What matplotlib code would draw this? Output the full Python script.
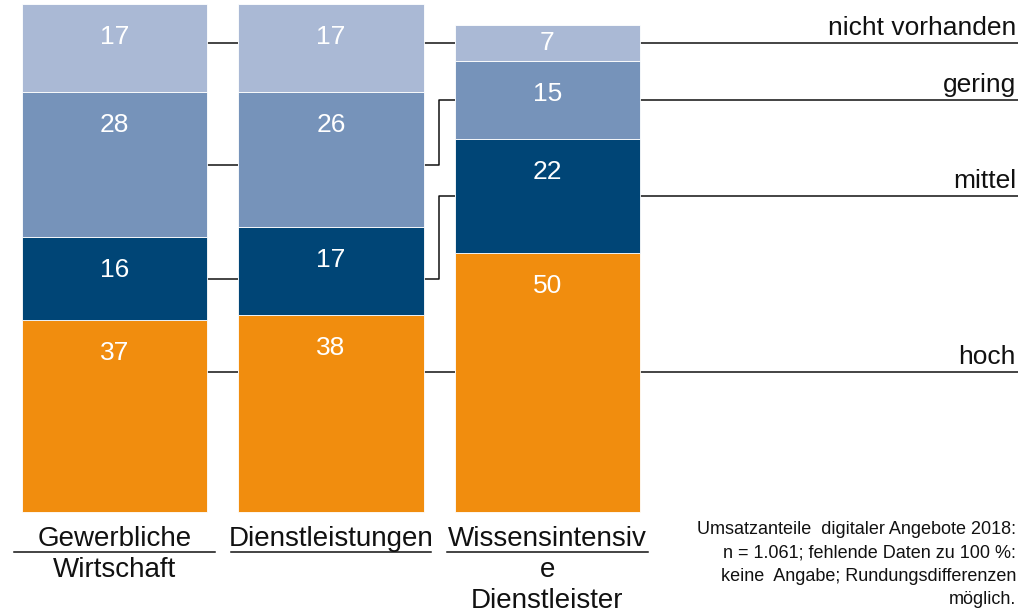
import matplotlib.pyplot as plt
import numpy as np

plt.rcParams['font.family'] = ['Liberation Sans', 'DejaVu Sans']

# data
categories = [["Gewerbliche", "Wirtschaft"], ["Dienstleistungen"], ["Wissensintensiv", "e", "Dienstleister"]]
levels = ["hoch", "mittel", "gering", "nicht vorhanden"]
hoch = [37, 38, 50]
mittel = [16, 17, 22]
gering = [28, 26, 15]
nicht = [17, 17, 7]
colors = ['#F18D0E', '#004576', '#7693BA', '#AAB9D5']
note = ["Umsatzanteile  digitaler Angebote 2018:",
        "n = 1.061; fehlende Daten zu 100 %:",
        "keine  Angabe; Rundungsdifferenzen",
        "möglich."]

fig = plt.figure(figsize=(10.32, 6.15), dpi=100)
ax = fig.add_axes([0, 0, 1, 1])
ax.set_xlim(-0.529, 4.238)
ax.set_ylim(-19.88, 98.84)
ax.axis('off')
px_per_unit = 615 / (98.84 + 19.88)

x = np.arange(len(categories))
w = 0.855
line_end = 4.173
hoch_line = 27  # leader for "hoch" sits above segment middles

bottom = np.zeros(len(x))
mids = []
for vals, c in zip([hoch, mittel, gering, nicht], colors):
    vals = np.array(vals)
    ax.bar(x, vals, w, bottom=bottom, color=c, edgecolor='white', linewidth=0.6, zorder=2)
    top = bottom + vals
    mid = bottom + vals / 2
    for xi, t, m, v in zip(x, top, mid, vals):
        ax.text(xi, max(t - 6.3, m), str(v), ha='center', va='center',
                color='white', fontsize=19, zorder=3)
    mids.append(mid)
    bottom = top

# leader lines
lc = dict(color='#111111', lw=1.1, zorder=1, solid_capstyle='butt')
for i, name in enumerate(levels):
    left_y, right_y = mids[i][0], mids[i][2]
    if i == 0:
        left_y = right_y = hoch_line
    if abs(left_y - right_y) < 2:
        left_y = right_y
    step = (x[1] + x[2]) / 2
    ax.plot([x[0] + w/2, x[1] - w/2], [left_y, left_y], **lc)
    ax.plot([x[1] + w/2, step, step, x[2] - w/2], [left_y, left_y, right_y, right_y], **lc)
    ax.plot([x[2] + w/2, line_end], [right_y, right_y], **lc)
    ax.annotate(name, (line_end, right_y), xytext=(-2, 8), textcoords='offset pixels',
                ha='right', va='baseline', fontsize=19, color='#111111')

# category labels with underline
ul_y = -40 / px_per_unit
for xi, lines in zip(x, categories):
    for k, s in enumerate(lines):
        ax.annotate(s, (xi, 0), xytext=(0, -34 - 31 * k), textcoords='offset pixels',
                    ha='center', va='baseline', fontsize=20, color='#111111')
    ax.plot([xi - w/2 - 0.035, xi + w/2 + 0.035], [ul_y, ul_y], color='#111111', lw=1.1)

# note, one line at a time
for k, s in enumerate(note):
    ax.text(1016 / 1032, 1 - (534 + 23.5 * k) / 615, s, transform=ax.transAxes,
            ha='right', va='baseline', fontsize=13, color='#111111')

fig.savefig('out.png', dpi=100)
